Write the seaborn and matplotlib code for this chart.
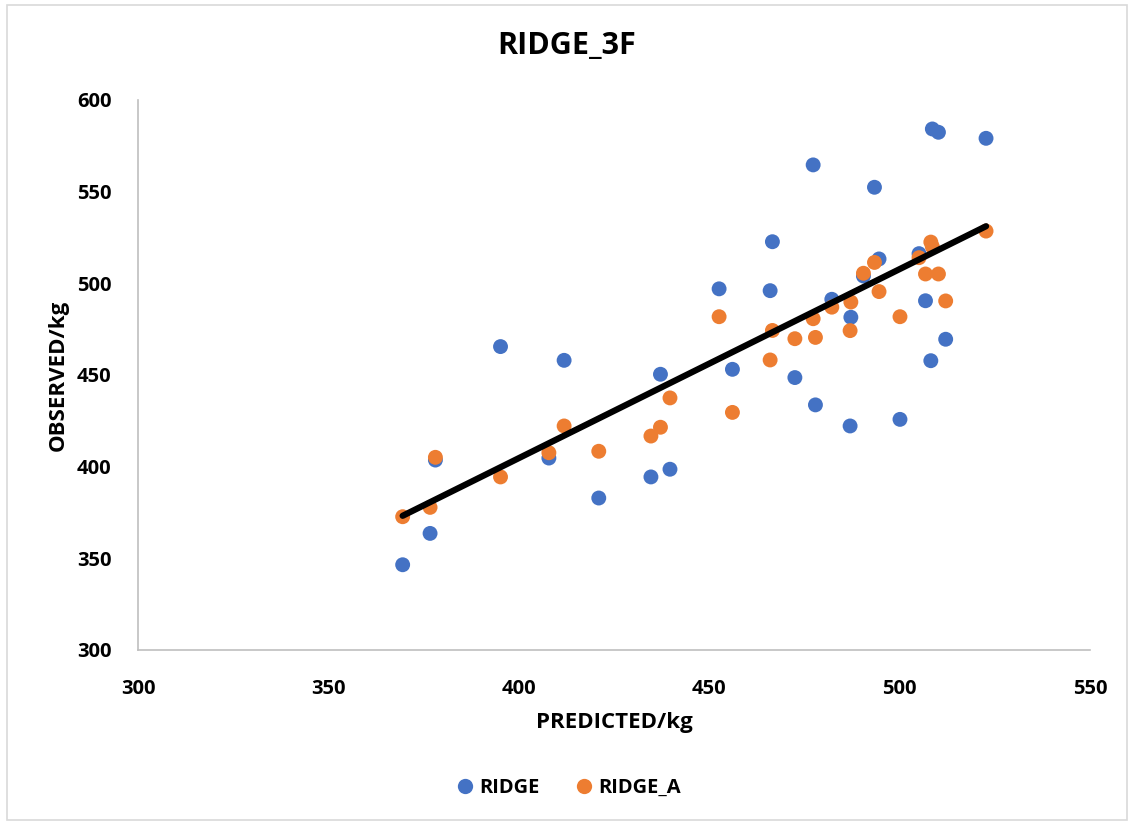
import numpy as np
import pandas as pd
import seaborn as sns
import matplotlib.pyplot as plt
from matplotlib.patches import Rectangle
from matplotlib.lines import Line2D

predicted = [369.5, 376.7, 378.1, 395.2, 407.9, 411.9, 421.0, 434.7, 437.2, 439.7,
             452.6, 456.1, 466.0, 466.6, 472.5, 477.3, 477.9, 482.2, 487.0, 487.2,
             490.5, 493.4, 494.6, 500.1, 505.1, 506.8, 508.2, 508.6, 510.2, 512.1, 522.7]
ridge = [346.5, 363.6, 403.6, 465.5, 404.7, 458.0, 382.9, 394.4, 450.4, 398.6,
         497.0, 453.1, 496.0, 522.7, 448.6, 564.6, 433.7, 491.3, 422.2, 481.5,
         504.0, 552.4, 513.3, 425.8, 516.2, 490.5, 457.8, 584.2, 582.4, 469.5, 579.1]
ridge_a = [372.7, 377.8, 405.1, 394.4, 407.6, 422.2, 408.4, 416.7, 421.5, 437.5,
           481.8, 429.6, 458.2, 474.3, 469.8, 480.7, 470.5, 487.0, 474.2, 489.8,
           505.5, 511.4, 495.5, 481.8, 514.0, 505.1, 522.5, 520.0, 505.1, 490.4, 528.5]
series_names = ["RIDGE", "RIDGE_A"]
x_ticks = [300, 350, 400, 450, 500, 550]
y_ticks = [300, 350, 400, 450, 500, 550, 600]

sns.set_theme(style="white")
plt.rcParams['font.family'] = ['Open Sans', 'DejaVu Sans']
plt.rcParams['text.color'] = 'black'
plt.rcParams['xtick.color'] = 'black'
plt.rcParams['ytick.color'] = 'black'
plt.rcParams['axes.labelcolor'] = 'black'

BLUE = "#4472C4"
ORANGE = "#ED7D31"

df = pd.DataFrame({
    "PREDICTED": predicted * 2,
    "OBSERVED": ridge + ridge_a,
    "series": [series_names[0]] * len(ridge) + [series_names[1]] * len(ridge_a),
})

fig = plt.figure(figsize=(11.34, 8.23), dpi=100)
ax = fig.add_axes([138 / 1134, 1 - 650 / 823, (1090 - 138) / 1134, (650 - 100) / 823])

sns.scatterplot(data=df, x="PREDICTED", y="OBSERVED", hue="series",
                palette={"RIDGE": BLUE, "RIDGE_A": ORANGE}, s=115,
                linewidth=0, ax=ax, legend=False, zorder=3)
sns.regplot(x=np.array(predicted), y=np.array(ridge), scatter=False, ci=None,
            truncate=True, color="black", line_kws={"linewidth": 4.5, "zorder": 4}, ax=ax)

ax.set_xlim(300, 550)
ax.set_ylim(300, 600)
ax.set_xticks(x_ticks)
ax.set_yticks(y_ticks)
ax.set_xticklabels([str(t) for t in x_ticks], fontsize=14.5, fontweight="bold")
ax.set_yticklabels([str(t) for t in y_ticks], fontsize=14.5, fontweight="bold")
ax.tick_params(axis="x", length=0, pad=21)
ax.tick_params(axis="y", length=0, pad=19)
for side in ["top", "right"]:
    ax.spines[side].set_visible(False)
for side in ["left", "bottom"]:
    ax.spines[side].set_color("#BFBFBF")
    ax.spines[side].set_linewidth(1.2)
ax.grid(False)

ax.set_xlabel("PREDICTED/kg", fontsize=16, fontweight="bold", labelpad=9)
ax.set_ylabel("OBSERVED/kg", fontsize=16, fontweight="bold", labelpad=6)

fig.text(0.5, 1 - 46 / 823, "RIDGE_3F", ha="center", va="center",
         fontsize=22, fontweight="bold")

handles = [Line2D([0], [0], marker="o", linestyle="", markersize=11,
                  markerfacecolor=BLUE, markeredgewidth=0),
           Line2D([0], [0], marker="o", linestyle="", markersize=11,
                  markerfacecolor=ORANGE, markeredgewidth=0)]
fig.legend(handles, series_names, loc="center", bbox_to_anchor=(0.5, 1 - 788 / 823),
           ncol=2, frameon=False, prop={"weight": "bold", "size": 14.5},
           handletextpad=0.1, columnspacing=1.6, handlelength=1.2)

fig.patches.append(Rectangle((7 / 1134, 3 / 823), 1 - 14 / 1134, 1 - 8 / 823,
                             transform=fig.transFigure, fill=False,
                             edgecolor="#D9D9D9", linewidth=1.2))

fig.savefig("out.png", dpi=100)
